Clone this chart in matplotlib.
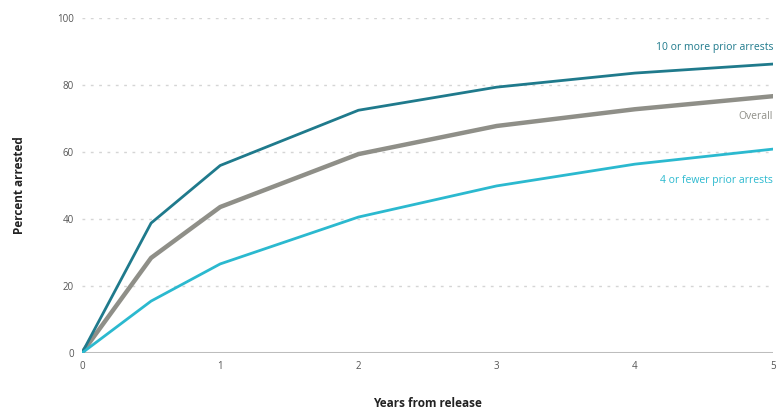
import matplotlib.pyplot as plt

plt.rcParams['font.family'] = ['Open Sans', 'DejaVu Sans']

years = [0, 0.5, 1, 2, 3, 4, 5]
more_10 = [0, 38.8, 56.0, 72.5, 79.4, 83.6, 86.3]
overall = [0, 28.4, 43.6, 59.4, 67.8, 72.8, 76.7]
fewer_4 = [0, 15.5, 26.6, 40.6, 49.9, 56.4, 60.9]

c_dark = '#1f7a8c'
c_grey = '#8f8f88'
c_cyan = '#2bb9cf'

fig = plt.figure(figsize=(7.77, 4.13), dpi=100)
ax = fig.add_axes([0.1055, 0.1453, 0.8895, 0.8107])

for y in [20, 40, 60, 80, 100]:
    ax.axhline(y, color='#d5d5d5', lw=1, ls=(0, (2, 4)), zorder=0)
ax.axhline(0, color='#bdbdbd', lw=2.2, zorder=1)

ax.plot(years, overall, color=c_grey, lw=3.2, zorder=2)
ax.plot(years, more_10, color=c_dark, lw=2, zorder=3)
ax.plot(years, fewer_4, color=c_cyan, lw=2, zorder=3)

ax.text(5, 89.5, '10 or more prior arrests', color=c_dark, fontsize=7.5, ha='right', va='bottom')
ax.text(5, 70.5, 'Overall', color=c_grey, fontsize=7.5, ha='right', va='center')
ax.text(5, 51.5, '4 or fewer prior arrests', color=c_cyan, fontsize=7.5, ha='right', va='center')

ax.set_xlim(0, 5)
ax.set_ylim(0, 100)
ax.set_xticks([0, 1, 2, 3, 4, 5])
ax.set_yticks([0, 20, 40, 60, 80, 100])
ax.tick_params(length=0, labelsize=7, colors='#555555', pad=6)
for s in ax.spines.values():
    s.set_visible(False)
ax.set_xlabel('Years from release', fontsize=8.5, fontweight='bold', color='#222222', labelpad=18)
ax.set_ylabel('Percent arrested', fontsize=8.5, fontweight='bold', color='#222222', labelpad=22)

fig.savefig('out.png', dpi=100)
